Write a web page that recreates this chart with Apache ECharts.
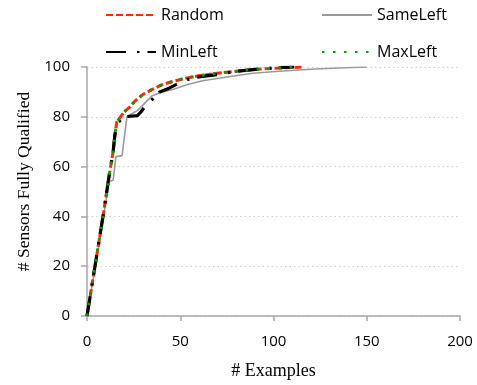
<!DOCTYPE html>
<html>
<head>
<meta charset="utf-8">
<script src="https://cdn.jsdelivr.net/npm/echarts@6/dist/echarts.min.js"></script>
<style>
  html, body { margin: 0; padding: 0; background: #fff; }
  #chart { width: 477px; height: 385px; }
</style>
</head>
<body>
<div id="chart"></div>
<script>
// values
const randomX = [0, 3, 6, 9, 12, 14, 15, 16, 18, 20, 23, 26, 30, 35, 40, 45, 50, 55, 60, 70, 80, 90, 100, 110, 116];
const randomY = [0, 14, 28, 42, 57, 66, 73, 78, 80, 82, 84, 86.5, 89, 91, 92.8, 94, 95, 95.8, 96.5, 97.5, 98.3, 99, 99.5, 99.8, 100];

const sameLeftX = [0, 4, 8, 11.8, 12.5, 14, 15.5, 18.8, 21.4, 23, 27, 31, 35, 39, 46, 54, 62, 75, 89, 103, 120, 135, 150];
const sameLeftY = [0, 18, 36, 54, 54, 54.5, 64, 64.4, 80, 80.8, 82.5, 85.5, 88.5, 89.7, 91, 93, 94.5, 96, 97.5, 98.3, 99.1, 99.6, 100];

const minLeftX = [0, 3, 6, 9, 12, 14, 15, 17, 20, 27, 29, 31, 35, 39, 44, 48, 54, 60, 70, 80, 93, 100, 111];
const minLeftY = [0, 14, 28, 42, 57, 66, 73, 78, 80, 80.5, 82, 84, 87, 90, 91.5, 93, 95, 96, 97, 98.3, 99.2, 99.6, 100];

const maxLeftX = [0, 3, 6, 9, 12, 14, 15, 16, 18, 20, 23, 26, 30, 35, 40, 45, 50, 55, 60, 70, 80, 90, 100, 112];
const maxLeftY = [0, 14, 28, 42, 57, 66, 73, 78, 80, 82, 84, 86.5, 89, 91, 92.8, 94, 95, 95.8, 96.5, 97.5, 98.3, 99, 99.5, 100];

const xTicks = { min: 0, max: 200, step: 50 };
const yTicks = { min: 0, max: 100, step: 20 };

const zip = (xs, ys) => xs.map((x, i) => [x, ys[i]]);

const axisGray = "#a6a6a6";
const labelFont = { fontFamily: "Open Sans", fontSize: 15, color: "#000" };
const legendText = { fontFamily: "Open Sans", fontSize: 16, color: "#000" };

// one legend per entry so each sits where the reference puts it
const makeLegend = (name, left, top) => ({
  data: [name],
  left,
  top,
  padding: 0,
  itemWidth: 50,
  itemHeight: 14,
  itemGap: 0,
  itemStyle: { opacity: 0 },
  textStyle: legendText,
});

const chart = echarts.init(document.getElementById("chart"));
chart.setOption({
  animation: false,
  backgroundColor: "#fff",
  legend: [
    makeLegend("Random", 105, 7),
    makeLegend("SameLeft", 321, 7),
    makeLegend("MinLeft", 105, 44),
    makeLegend("MaxLeft", 321, 44),
  ],
  grid: { left: 87, right: 17, top: 67, bottom: 65, containLabel: false },
  xAxis: {
    type: "value",
    min: xTicks.min,
    max: xTicks.max,
    interval: xTicks.step,
    name: "# Examples",
    nameLocation: "middle",
    nameGap: 46,
    nameTextStyle: { fontFamily: "Liberation Serif", fontSize: 18, color: "#000" },
    axisLine: { show: true, lineStyle: { color: axisGray, width: 1.5 } },
    axisTick: { show: true, length: 5, lineStyle: { color: axisGray, width: 1.5 } },
    axisLabel: { ...labelFont, margin: 18 },
    splitLine: { show: false },
  },
  yAxis: {
    type: "value",
    min: yTicks.min,
    max: yTicks.max,
    interval: yTicks.step,
    name: "# Sensors Fully Qualified",
    nameLocation: "middle",
    nameGap: 54,
    nameTextStyle: {
      fontFamily: "Liberation Serif",
      fontSize: 17.5,
      color: "#000",
      padding: [0, 0, 0, 20],
    },
    axisLine: { show: true, lineStyle: { color: axisGray, width: 1.5 } },
    axisTick: { show: true, length: 6, lineStyle: { color: axisGray, width: 1.5 } },
    axisLabel: { ...labelFont, margin: 17 },
    splitLine: { show: true, lineStyle: { color: "#cfcfcf", width: 1, type: [1.5, 3] } },
  },
  series: [
    {
      name: "Random",
      type: "line",
      data: zip(randomX, randomY),
      symbol: "none",
      lineStyle: { color: "#ff2a00", width: 3, type: [7, 3] },
      itemStyle: { color: "#ff2a00" },
      z: 3,
    },
    {
      name: "SameLeft",
      type: "line",
      data: zip(sameLeftX, sameLeftY),
      symbol: "none",
      lineStyle: { color: "#999999", width: 1.6 },
      itemStyle: { color: "#999999" },
      z: 2,
    },
    {
      name: "MinLeft",
      type: "line",
      data: zip(minLeftX, minLeftY),
      symbol: "none",
      lineStyle: { color: "#000000", width: 3.2, type: [20, 11, 2.5, 8] },
      itemStyle: { color: "#000000" },
      z: 4,
    },
    {
      name: "MaxLeft",
      type: "line",
      data: zip(maxLeftX, maxLeftY),
      symbol: "none",
      lineStyle: { color: "#0a9a0a", width: 3, type: [2.5, 8.5] },
      itemStyle: { color: "#0a9a0a" },
      z: 5,
    },
  ],
});
</script>
</body>
</html>
